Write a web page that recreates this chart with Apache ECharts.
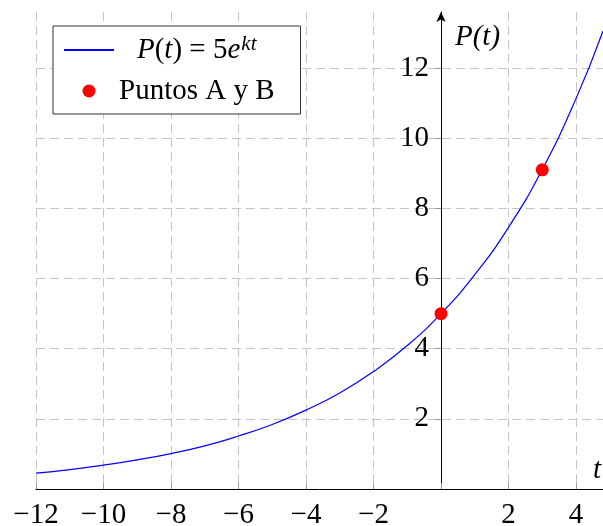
<!DOCTYPE html>
<html lang="es">
<head>
    <meta charset="UTF-8">
    <title>P(t) = 5e^kt</title>
    <script src="https://cdn.jsdelivr.net/npm/echarts@6/dist/echarts.min.js"></script>
    <style>
        html, body { margin: 0; padding: 0; background: #fff; }
        #main { width: 603px; height: 526px; }
    </style>
</head>
<body>
    <div id="main"></div>

    <script>
        // valores
        var tValues = [-12, -11, -10, -9, -8, -7, -6, -5, -4, -3, -2, -1, 0, 1, 2, 3, 4, 4.8];
        var pValues = [0.45, 0.55, 0.68, 0.83, 1.01, 1.23, 1.51, 1.84, 2.25, 2.74, 3.35, 4.09, 5.0, 6.11, 7.46, 9.11, 11.13, 13.06];
        var pointT = [0, 3];
        var pointP = [5, 9.1];
        var curveName = 'P(t) = 5e^kt';
        var pointsName = 'Puntos A y B';

        var serif = 'Liberation Serif';
        var fs = 29;
        var gridColor = '#c4c4c4';

        var curveData = tValues.map(function (t, i) { return [t, pValues[i]]; });
        var pointData = pointT.map(function (t, i) { return [t, pointP[i]]; });

        function tickLabel(v) {
            if (v === 0) return '';
            return v < 0 ? '\u2212' + (-v) : String(v);
        }

        // el eje vertical se dibuja en t = 0: desplazado desde el borde izquierdo de la rejilla
        var gridLeft = 36, gridRight = 0, xMin = -12, xMax = 4.8;
        var plotW = 603 - gridLeft - gridRight;
        var yAxisOffset = -plotW * (0 - xMin) / (xMax - xMin);

        var option = {
            animation: false,
            backgroundColor: '#fff',
            grid: { left: gridLeft, right: gridRight, top: 12, bottom: 37, outerBoundsMode: 'none', containLabel: false },
            legend: {
                left: 53,
                top: 26,
                orient: 'vertical',
                backgroundColor: '#fff',
                borderColor: '#333',
                borderWidth: 1,
                borderRadius: 0,
                padding: [8, 26, 7, 10],
                itemGap: 9,
                itemWidth: 50,
                itemHeight: 13,
                data: [
                    { name: curveName, itemStyle: { color: 'rgba(0,0,0,0)', borderWidth: 0 } },
                    { name: pointsName }
                ],
                textStyle: {
                    fontFamily: serif, fontSize: fs, color: '#000', lineHeight: 32,
                    rich: {
                        g: { width: 18 },
                        i: { fontFamily: serif, fontSize: fs, fontStyle: 'italic', color: '#000' },
                        n: { fontFamily: serif, fontSize: fs, color: '#000' },
                        s: { fontFamily: serif, fontSize: 21, fontStyle: 'italic', color: '#000', verticalAlign: 'top', padding: [0, 0, 0, 1] }
                    }
                },
                formatter: function (name) {
                    if (name === curveName) {
                        return '{g|}{i|P}{n|(}{i|t}{n|) = 5}{i|e}{s|kt}';
                    }
                    return name;
                }
            },
            xAxis: {
                type: 'value',
                min: xMin,
                max: xMax,
                interval: 2,
                name: 't',
                nameLocation: 'end',
                nameGap: -2,
                nameTextStyle: {
                    fontFamily: serif, fontSize: fs, fontStyle: 'italic', color: '#000',
                    align: 'right', verticalAlign: 'bottom', padding: [0, 0, 4, 0]
                },
                axisLine: { onZero: false, lineStyle: { color: '#000', width: 1 } },
                axisTick: { inside: true, length: 6, lineStyle: { color: '#999' } },
                axisLabel: {
                    showMaxLabel: false,
                    margin: 12,
                    fontFamily: serif, fontSize: fs, color: '#000',
                    formatter: tickLabel
                },
                splitLine: {
                    show: true,
                    showMaxLine: false,
                    lineStyle: { color: gridColor, type: [9, 5], width: 1 }
                }
            },
            yAxis: {
                type: 'value',
                min: 0,
                max: 13.6,
                interval: 2,
                offset: yAxisOffset,
                name: 'P(t)',
                nameLocation: 'end',
                nameGap: -11,
                nameTextStyle: {
                    fontFamily: serif, fontSize: fs, fontStyle: 'italic', color: '#000',
                    align: 'left', verticalAlign: 'top', padding: [0, 0, 0, 14]
                },
                axisLine: {
                    onZero: false,
                    symbol: ['none', 'arrow'],
                    symbolSize: [7, 10],
                    lineStyle: { color: '#000', width: 1 }
                },
                axisTick: { show: true, length: 6, lineStyle: { color: '#999' } },
                axisLabel: {
                    showMinLabel: false,
                    showMaxLabel: false,
                    margin: 12,
                    fontFamily: serif, fontSize: fs, color: '#000',
                    formatter: tickLabel
                },
                splitLine: {
                    show: true,
                    showMaxLine: false,
                    showMinLine: false,
                    lineStyle: { color: gridColor, type: [9, 5], width: 1 }
                }
            },
            series: [
                {
                    name: curveName,
                    type: 'line',
                    data: curveData,
                    smooth: true,
                    symbol: 'none',
                    lineStyle: { color: '#0000ff', width: 1.2 },
                    itemStyle: { color: '#0000ff' },
                    z: 3
                },
                {
                    name: pointsName,
                    type: 'scatter',
                    data: pointData,
                    symbol: 'circle',
                    symbolSize: 13,
                    itemStyle: { color: '#ff0000', opacity: 1 },
                    z: 4
                }
            ]
        };

        var myChart = echarts.init(document.getElementById('main'));
        myChart.setOption(option);
    </script>
</body>
</html>
